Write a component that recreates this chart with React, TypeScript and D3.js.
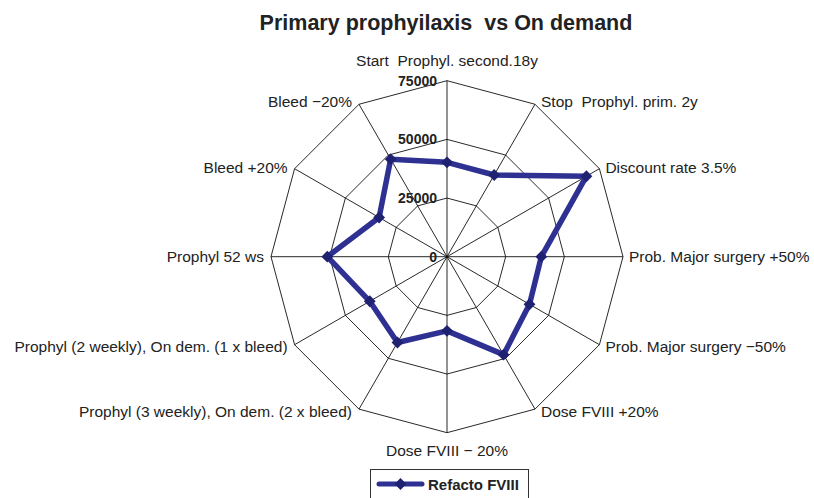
import React from 'react';
import * as d3 from 'd3';

const axes = [
  'Start \u00a0Prophyl. second.18y',
  'Stop \u00a0Prophyl. prim. 2y',
  'Discount rate 3.5%',
  'Prob. Major surgery +50%',
  'Prob. Major surgery \u221250%',
  'Dose FVIII +20%',
  'Dose FVIII \u2212 20%',
  'Prophyl (3 weekly), On dem. (2 x bleed)',
  'Prophyl (2 weekly), On dem. (1 x bleed)',
  'Prophyl 52 ws',
  'Bleed +20%',
  'Bleed \u221220%',
];

const refacto = [40200, 40200, 68600, 40200, 40600, 48200, 31600, 42200, 38000, 51000, 33400, 48000];

const ticks = [0, 25000, 50000, 75000];

const W = 814;
const H = 498;
const cx = 447;
const cy = 256.7;
const R = 176;
const font = '"Liberation Sans", Arial, sans-serif';
const lineColor = '#2e3192';
const markColor = '#1f2270';

const App = () => {
  const r = d3.scaleLinear().domain([0, 75000]).range([0, R]);
  const angle = d3.scaleLinear().domain([0, axes.length]).range([0, 2 * Math.PI]);
  const pt = (i: number, v: number): [number, number] => {
    const a = angle(i);
    return [cx + r(v) * Math.sin(a), cy - r(v) * Math.cos(a)];
  };

  const ringPath = (v: number) =>
    d3.line().curve(d3.curveLinearClosed)(axes.map((_, i) => pt(i, v)));

  const dataPath = d3.line().curve(d3.curveLinearClosed)(refacto.map((v, i) => pt(i, v)));

  // square rotated 45deg -> diamond
  const marker = d3.symbol().type(d3.symbolSquare).size(70)();

  return (
    <div style={{ position: 'fixed', left: 0, top: 0 }}>
      <svg width={W} height={H} style={{ display: 'block', background: '#fff' }}>
        <text x={446} y={30} textAnchor="middle" fontFamily={font} fontWeight="bold" fontSize={21.5} fill="#222">
          {'Primary prophyilaxis \u00a0vs On demand'}
        </text>

        {ticks.slice(1).map((t) => (
          <path key={t} d={ringPath(t) || ''} fill="none" stroke="#111" strokeWidth={0.9} />
        ))}
        {axes.map((_, i) => {
          const [x, y] = pt(i, 75000);
          return <line key={i} x1={cx} y1={cy} x2={x} y2={y} stroke="#111" strokeWidth={0.9} />;
        })}

        {ticks.map((t) => (
          <text key={t} x={cx - 10} y={cy - r(t) + 5} textAnchor="end" fontFamily={font} fontWeight="bold" fontSize={14} fill="#222">
            {t}
          </text>
        ))}

        {axes.map((label, i) => {
          const [x, y] = pt(i, 75000);
          const s = Math.sin(angle(i));
          const c = Math.cos(angle(i));
          let anchor = 'middle';
          let dx = 0;
          let dy = 5.5 - c * 3;
          if (s > 0.01) { anchor = 'start'; dx = 6; }
          else if (s < -0.01) { anchor = 'end'; dx = -7; }
          else if (c > 0) dy = -14.5;
          else dy = 23.5;
          return (
            <text key={label} x={x + dx} y={y + dy} textAnchor={anchor} fontFamily={font} fontSize={15.5} fill="#222">
              {label}
            </text>
          );
        })}

        <path d={dataPath || ''} fill="none" stroke={lineColor} strokeWidth={5.5} strokeLinejoin="round" />
        {refacto.map((v, i) => {
          const [x, y] = pt(i, v);
          return <path key={i} d={marker || ''} transform={`translate(${x},${y}) rotate(45)`} fill={markColor} />;
        })}

        <rect x={370.5} y={469.5} width={158} height={40} fill="#fff" stroke="#333" strokeWidth={1} />
        <line x1={379} x2={422} y1={484} y2={484} stroke={lineColor} strokeWidth={5} strokeLinecap="round" />
        <path d={marker || ''} transform="translate(400.5,484) rotate(45)" fill={markColor} />
        <text x={428} y={489.5} fontFamily={font} fontWeight="bold" fontSize={15} fill="#222">
          Refacto FVIII
        </text>
      </svg>
    </div>
  );
};

export default App;
